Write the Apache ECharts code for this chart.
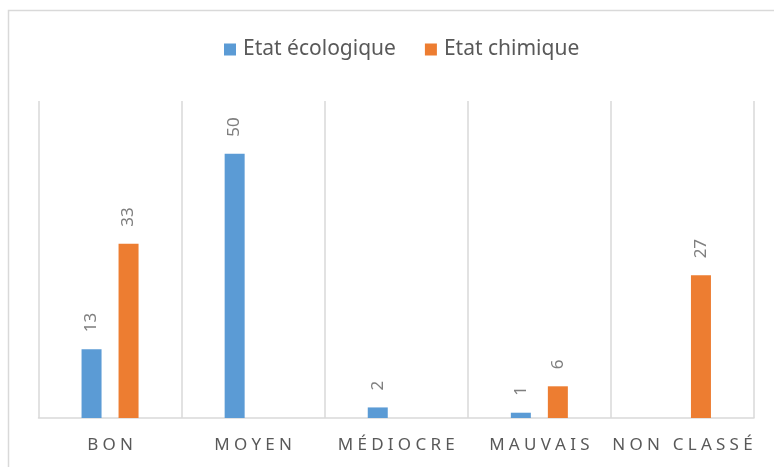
<!DOCTYPE html>
<html>
<head>
<meta charset="utf-8">
<script src="https://cdn.jsdelivr.net/npm/echarts@6/dist/echarts.min.js"></script>
<style>
  html, body { margin: 0; padding: 0; background: #fff; }
  #chart { width: 774px; height: 467px; }
</style>
</head>
<body>
<div id="chart"></div>
<script>
const categories = ['BON', 'MOYEN', 'MÉDIOCRE', 'MAUVAIS', 'NON CLASSÉ'];
const etatEcologique = [13, 50, 2, 1, null];
const etatChimique = [33, null, null, 6, 27];

const chart = echarts.init(document.getElementById('chart'));

// spread the letters a bit, like the original axis labels
function spaced(s) {
  return s.split('').join('\u2005');
}

const labelStyle = {
  show: true,
  position: 'top',
  rotate: 90,
  align: 'left',
  verticalAlign: 'middle',
  distance: 17,
  color: '#7f7f7f',
  fontSize: 17,
  fontFamily: 'Noto Sans'
};

chart.setOption({
  animation: false,
  textStyle: { fontFamily: 'Noto Sans' },
  graphic: [{
    type: 'rect',
    shape: { x: 8.5, y: 10.5, width: 800, height: 500 },
    style: { fill: 'none', stroke: '#d9d9d9', lineWidth: 1.5 },
    silent: true
  }],
  legend: {
    top: 34,
    left: 219,
    itemWidth: 12,
    itemHeight: 12,
    itemGap: 29,
    icon: 'rect',
    textStyle: {
      color: '#595959',
      fontSize: 21,
      fontFamily: 'Noto Sans',
      padding: [0, 0, 0, 2]
    }
  },
  grid: { left: 38.5, right: 20, top: 101, bottom: 49 },
  xAxis: {
    type: 'category',
    data: categories,
    axisLine: { lineStyle: { color: '#d9d9d9', width: 1.5 } },
    axisTick: { show: false },
    splitLine: { show: true, interval: 0, lineStyle: { color: '#d9d9d9', width: 1.5 } },
    axisLabel: {
      interval: 0,
      color: '#595959',
      fontSize: 17,
      margin: 19,
      formatter: spaced
    }
  },
  yAxis: {
    type: 'value',
    min: 0,
    max: 60,
    show: false,
    splitLine: { show: false }
  },
  series: [
    {
      name: 'Etat écologique',
      type: 'bar',
      data: etatEcologique,
      barWidth: 20,
      barGap: '85%',
      itemStyle: { color: '#5b9bd5' },
      label: labelStyle
    },
    {
      name: 'Etat chimique',
      type: 'bar',
      data: etatChimique,
      barWidth: 20,
      itemStyle: { color: '#ed7d31' },
      label: labelStyle
    }
  ]
});
</script>
</body>
</html>
